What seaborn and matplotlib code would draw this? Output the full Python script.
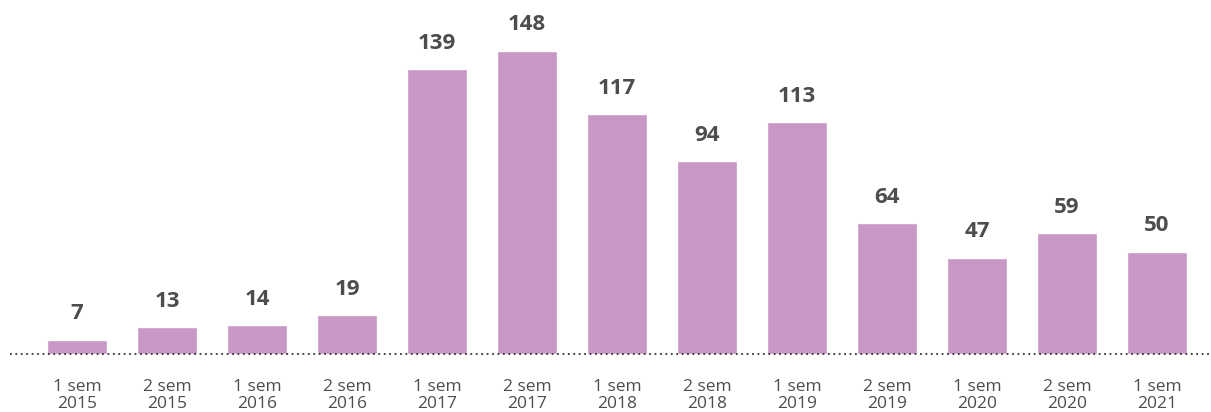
import pandas as pd
import matplotlib.pyplot as plt
import seaborn as sns

# dati
periodi = ["1 sem\n2015", "2 sem\n2015", "1 sem\n2016", "2 sem\n2016",
           "1 sem\n2017", "2 sem\n2017", "1 sem\n2018", "2 sem\n2018",
           "1 sem\n2019", "2 sem\n2019", "1 sem\n2020", "2 sem\n2020",
           "1 sem\n2021"]
valori = [7, 13, 14, 19, 139, 148, 117, 94, 113, 64, 47, 59, 50]

db = pd.DataFrame({"periodo": periodi, "valore": valori})

sns.set_style("white")
plt.rcParams["font.family"] = ["Open Sans", "DejaVu Sans"]

fig = plt.figure(figsize=(12.11, 4.12), dpi=100)
ax = fig.add_axes([0, 58 / 412, 1, 354 / 412])

sns.barplot(data=db, x="periodo", y="valore", color="#c897c5",
            saturation=1, width=0.667, ax=ax)

# etichette valori
ax.bar_label(ax.containers[0], padding=11, fontsize=16, fontweight="bold",
             color="#4d4d4d")

ax.set_xlim(-77 / 90, (1211 - 77) / 90)
ax.set_ylim(0, 354 / 2.05)

# linea di base tratteggiata
ax.axhline(0, xmin=10 / 1211, xmax=1, color="#333333", linestyle=(0, (1, 2)),
           linewidth=1.3, clip_on=False)

for s in ax.spines.values():
    s.set_visible(False)
ax.set_yticks([])
ax.set_xlabel("")
ax.set_ylabel("")
ax.tick_params(axis="x", length=0, pad=18, labelsize=12.5, labelcolor="#4d4d4d")
for lab in ax.get_xticklabels():
    lab.set_linespacing(1.1)
    lab.set_fontweight("medium")

fig.savefig("out.png", dpi=100)
